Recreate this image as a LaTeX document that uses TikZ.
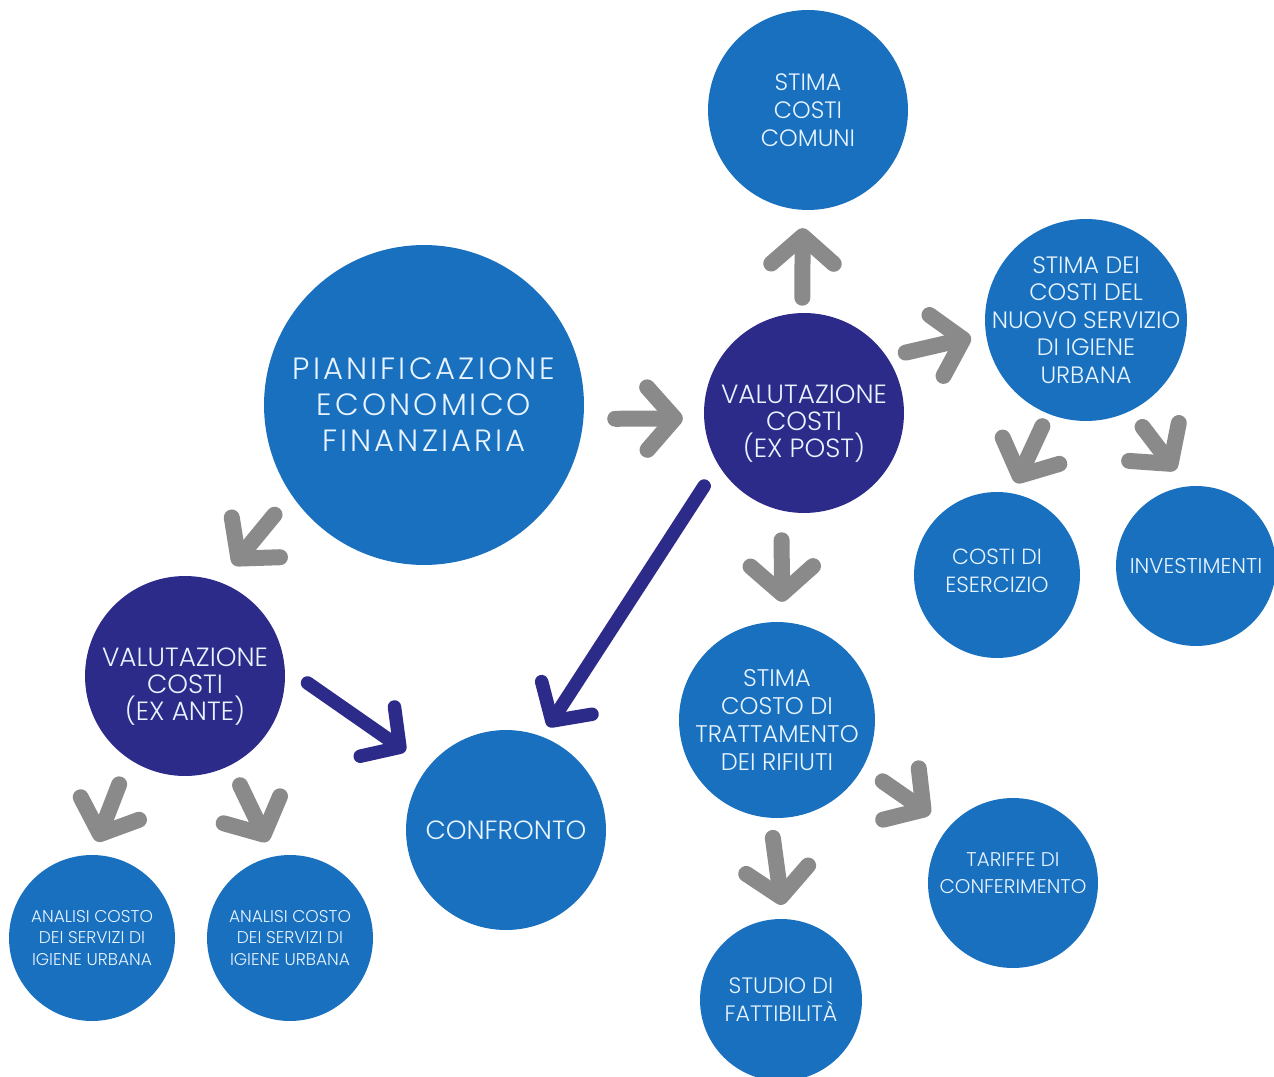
\documentclass[tikz,border=0pt]{standalone}
\usepackage{fontspec}
\setmainfont{Poppins}[UprightFont=* Light]
\newfontfamily\widefont{Poppins}[UprightFont=* Light, LetterSpace=10]
\usepackage{xcolor}
\usetikzlibrary{arrows.meta}
\definecolor{bubblue}{RGB}{24,112,191}
\definecolor{bubnavy}{RGB}{45,43,138}
\definecolor{arrgray}{RGB}{138,138,138}
\definecolor{bubtext}{RGB}{232,244,255}
\newcommand{\fs}[2]{\fontsize{#1pt}{#2pt}\selectfont}
\newcommand{\padtop}[1]{\rule{0pt}{#1}}
\newcommand{\padbot}[1]{\rule[-#1]{0pt}{#1}}

\tikzset{
  bub/.style={circle, fill=bubblue, text=bubtext, align=center, inner sep=0pt, minimum size=#1},
  darkbub/.style={bub=#1, fill=bubnavy},
  garrow/.style={draw=arrgray, line width=0.32cm, line cap=round,
    -{Straight Barb[length=0.55cm, width=1.25cm, round]}},
  navyarrow/.style={garrow, draw=bubnavy, line width=0.27cm,
    -{Straight Barb[length=0.55cm, width=1.2cm, round]}},
}

\begin{document}
\begin{tikzpicture}[x=0.02cm, y=-0.02cm]
  \useasboundingbox (0,0) rectangle (1274,1077);
  % centre
  \node[bub=6.4cm, font=\widefont\fs{17.5}{20.5}] (pian) at (424,405) {PIANIFICAZIONE\\ ECONOMICO\\ FINANZIARIA};
  \node[darkbub=4cm, font=\fs{15}{15.5}] (expost) at (804,413) {\padtop{23pt}VALUTAZIONE\\ COSTI\\ (EX POST)};
  \node[darkbub=4cm, font=\fs{15}{15.5}] (exante) at (185,676) {\padtop{23pt}VALUTAZIONE\\ COSTI\\ (EX ANTE)};
  \node[bub=4cm, font=\fs{15}{15.5}] (confronto) at (506,830) {CONFRONTO};
  % ex post branch
  \node[bub=4cm, font=\fs{13.5}{16}] (comuni) at (808,110) {STIMA\\ COSTI\\ COMUNI};
  \node[bub=4.04cm, inner sep=-12pt, font=\fs{13.5}{15.7}] (nuovo) at (1086,320) {STIMA DEI\\ COSTI DEL\\ NUOVO SERVIZIO\\ DI IGIENE\\ URBANA};
  \node[bub=3.32cm, font=\fs{12.5}{16}] (esercizio) at (997,575) {COSTI DI\\ ESERCIZIO\padbot{5pt}};
  \node[bub=3.2cm, font=\fs{12.2}{16}] (invest) at (1196,566) {INVESTIMENTI};
  \node[bub=3.92cm, font=\fs{13.7}{16}] (tratt) at (777,720) {STIMA\\ COSTO DI\\ TRATTAMENTO\\ DEI RIFIUTI};
  \node[bub=3.4cm, font=\fs{11.3}{15.5}] (tariffe) at (1013,883) {TARIFFE DI\\ CONFERIMENTO\padbot{11pt}};
  \node[bub=3.24cm, font=\fs{12.7}{16}] (studio) at (781,1000) {STUDIO DI\\ FATTIBILITÀ};
  % ex ante branch
  \node[bub=3.32cm, font=\fs{9.7}{12.5}] (analisiA) at (92,938) {ANALISI COSTO\\ DEI SERVIZI DI\\ IGIENE URBANA};
  \node[bub=3.32cm, font=\fs{9.7}{12.5}] (analisiB) at (290,938) {ANALISI COSTO\\ DEI SERVIZI DI\\ IGIENE URBANA};

  % grey arrows
  \draw[garrow, shorten <=0.63cm, shorten >=0.42cm] (pian.-5) -- (expost.183);
  \draw[garrow, shorten <=0.3cm, shorten >=0.36cm] (expost.91) -- (comuni.267);
  \draw[garrow, shorten <=0.38cm, shorten >=0.3cm] (expost.34.5) -- (nuovo.188.6);
  \draw[garrow, shorten <=0.27cm, shorten >=0.22cm] (nuovo.248.4) -- (esercizio.80);
  \draw[garrow, shorten <=0.4cm, shorten >=0.4cm] (nuovo.296.3) -- (invest.96.6);
  \draw[garrow, shorten <=0.59cm, shorten >=0.4cm] (expost.257.3) -- (tratt.87);
  \draw[garrow, shorten <=0.48cm, shorten >=0.45cm] (tratt.-29.6) -- (tariffe.139.4);
  \draw[garrow, shorten <=0.4cm, shorten >=0.28cm] (tratt.266) -- (studio.88);
  \draw[garrow, shorten <=0.52cm, shorten >=0.44cm] (pian.214.4) -- (exante.70.9);
  \draw[garrow, shorten <=0.54cm, shorten >=0.28cm] (exante.236.8) -- (analisiA.90.1);
  \draw[garrow, shorten <=0.44cm, shorten >=0.32cm] (exante.297.1) -- (analisiB.101.2);
  % navy arrows
  \draw[navyarrow, shorten <=0.51cm, shorten >=0.23cm] (expost.211.8) -- (confronto.69.1);
  \draw[navyarrow, shorten <=0.55cm, shorten >=0.55cm] (exante.5.7) -- (confronto.141.7);
\end{tikzpicture}
\end{document}
